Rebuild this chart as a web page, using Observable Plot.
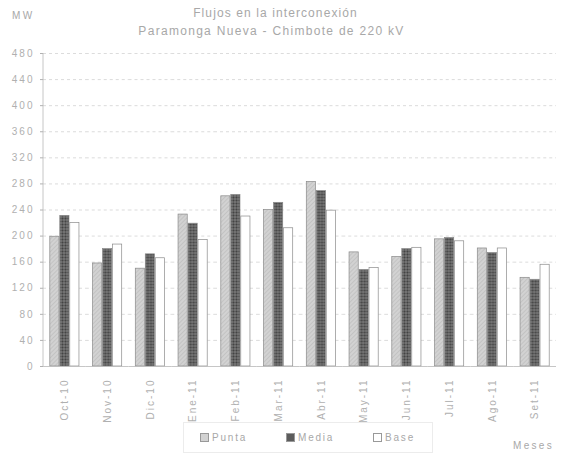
<!DOCTYPE html>
<html>
<head>
<meta charset="utf-8">
<script src="https://cdn.jsdelivr.net/npm/d3@7"></script>
<script src="https://cdn.jsdelivr.net/npm/@observablehq/plot@0.6"></script>
<style>
  html, body { margin: 0; padding: 0; background: #fff; }
  #wrap { position: relative; width: 561px; height: 459px; font-family: "Liberation Sans", Arial, sans-serif; color: #a8a8a8; }
  .abs { position: absolute; white-space: nowrap; }
  #t1 { left: 0; width: 551px; text-align: center; top: 6px; font-size: 12px; letter-spacing: 1.1px; }
  #t2 { left: 0; width: 543px; text-align: center; top: 24px; font-size: 12px; letter-spacing: 1.3px; }
  #mw { left: 12px; top: 10px; font-size: 10px; letter-spacing: 2.5px; }
  #meses { left: 513px; top: 440px; font-size: 10px; letter-spacing: 2.3px; }
  #legend { left: 183px; top: 422px; width: 250px; height: 31px; border: 1px solid #ececec; box-sizing: border-box; font-size: 10px; letter-spacing: 1.8px; }
  .item { position: absolute; top: 9px; display: flex; align-items: center; gap: 3px; }
  .sw { width: 7px; height: 7px; border: 1px solid #999; display: inline-block; }
</style>
</head>
<body>
<div id="wrap">
  <div id="chart"></div>
  <div class="abs" id="mw">MW</div>
  <div class="abs" id="t1">Flujos en la interconexión</div>
  <div class="abs" id="t2">Paramonga Nueva - Chimbote de 220 kV</div>
  <div class="abs" id="legend"></div>
  <div class="abs" id="meses">Meses</div>
</div>
<script>
const months = ["Oct-10","Nov-10","Dic-10","Ene-11","Feb-11","Mar-11","Abr-11","May-11","Jun-11","Jul-11","Ago-11","Set-11"];
const series = ["Punta","Media","Base"];
const punta = [199,158,150,233,261,240,283,175,168,195,181,136];
const media = [231,180,172,219,263,251,269,148,180,197,174,133];
const base  = [220,187,166,194,230,212,239,151,182,192,181,156];
const yTicks = [0,40,80,120,160,200,240,280,320,360,400,440,480];
const colors = ["#d2d2d2","#5c5c5c","#ffffff"];

const data = [];
months.forEach((m,i) => {
  data.push({month:m, serie:"Punta", value:punta[i]});
  data.push({month:m, serie:"Media", value:media[i]});
  data.push({month:m, serie:"Base", value:base[i]});
});

const chart = Plot.plot({
  width: 561,
  height: 459,
  marginTop: 53,
  marginBottom: 93,
  marginLeft: 43,
  marginRight: 5,
  style: {fontFamily: "'Liberation Sans', Arial, sans-serif", fontSize: "10px", letterSpacing: "2px", color: "#b0b0b0", background: "transparent"},
  fx: {domain: months, padding: 0, round: false, label: null, tickRotate: -90, tickSize: 0, tickPadding: 12},
  x: {domain: series, axis: null, paddingInner: 0, paddingOuter: 0.64, round: false},
  y: {domain: [0,480], ticks: yTicks, label: null, tickSize: 3, tickPadding: 8},
  color: {domain: series, range: colors},
  marks: [
    Plot.gridY(yTicks.filter(d => d > 0), {stroke: "#c4c4c4", strokeOpacity: 1, strokeWidth: 0.6, strokeDasharray: "3,3"}),
    Plot.barY(data, {fx: "month", x: "serie", y: "value", fill: d => "url(#pat-" + d.serie + ")", stroke: "#8a8a8a", strokeWidth: 0.7, insetLeft: 0.4, insetRight: 0.4}),
    Plot.ruleY([0], {stroke: "#b8b8b8", strokeWidth: 0.8}),
    Plot.axisY({ticks: yTicks, tickSize: 3, stroke: "#b0b0b0", fill: "#b0b0b0", facetAnchor: "left"})
  ]
});
document.getElementById("chart").appendChild(chart);

// patterns + y axis line
const svg = d3.select(chart);
const defs = svg.insert("defs", ":first-child");
const p1 = defs.append("pattern").attr("id", "pat-Punta").attr("patternUnits", "userSpaceOnUse").attr("width", 3).attr("height", 3).attr("patternTransform", "rotate(45)");
p1.append("rect").attr("width", 3).attr("height", 3).attr("fill", colors[0]);
p1.append("line").attr("x1", 0).attr("y1", 0).attr("x2", 0).attr("y2", 3).attr("stroke", "#b4b4b4").attr("stroke-width", 1);
const p2 = defs.append("pattern").attr("id", "pat-Media").attr("patternUnits", "userSpaceOnUse").attr("width", 3).attr("height", 3);
p2.append("rect").attr("width", 3).attr("height", 3).attr("fill", colors[1]);
p2.append("circle").attr("cx", 1).attr("cy", 1).attr("r", 0.8).attr("fill", "#8c8c8c");
p2.append("circle").attr("cx", 2.5).attr("cy", 2.5).attr("r", 0.5).attr("fill", "#3a3a3a");
const p3 = defs.append("pattern").attr("id", "pat-Base").attr("patternUnits", "userSpaceOnUse").attr("width", 4).attr("height", 4);
p3.append("rect").attr("width", 4).attr("height", 4).attr("fill", colors[2]);

const ys = chart.scale("y");
svg.append("line")
  .attr("x1", 43).attr("x2", 43)
  .attr("y1", ys.apply(0)).attr("y2", ys.apply(480))
  .attr("stroke", "#b8b8b8").attr("stroke-width", 0.8);

const legend = document.getElementById("legend");
const lx = [16, 102, 189];
series.forEach((s,i) => {
  const it = document.createElement("div");
  it.className = "item";
  it.style.left = lx[i] + "px";
  const sw = document.createElement("span");
  sw.className = "sw";
  sw.style.background = colors[i];
  it.appendChild(sw);
  const tx = document.createElement("span");
  tx.textContent = s;
  it.appendChild(tx);
  legend.appendChild(it);
});
</script>
</body>
</html>
